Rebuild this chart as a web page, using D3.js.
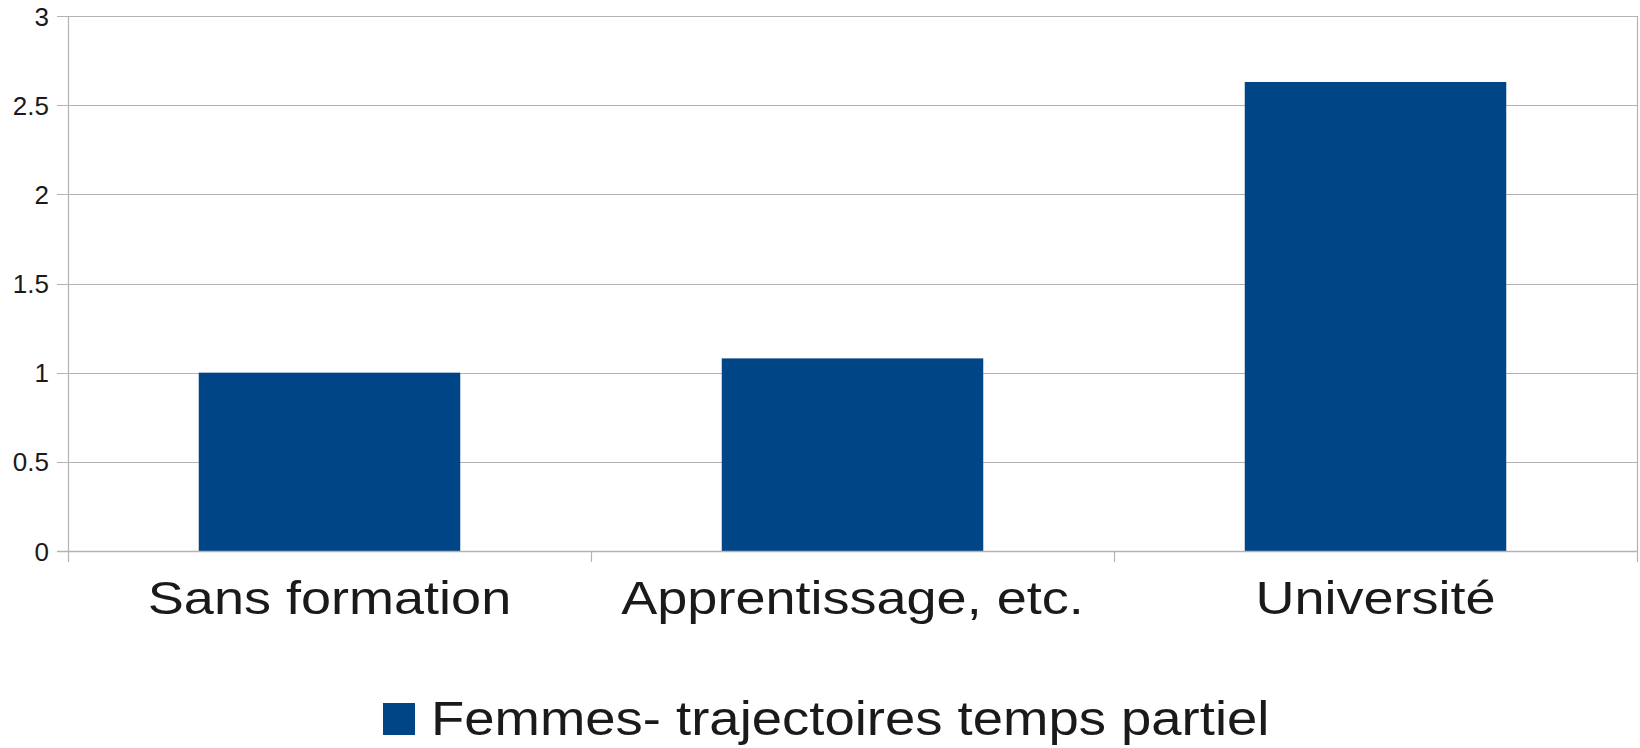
<!DOCTYPE html>
<html>
<head>
<meta charset="utf-8">
<script src="https://cdn.jsdelivr.net/npm/d3@7"></script>
<style>
  html, body { margin: 0; padding: 0; background: #fff; }
  svg { display: block; font-family: "Liberation Sans", Arial, sans-serif; }
</style>
</head>
<body>
<svg id="chart" width="1640" height="748"></svg>
<script>
const categories = ["Sans formation", "Apprentissage, etc.", "Université"];
const seriesName = "Femmes- trajectoires temps partiel";
const values = [1.0, 1.08, 2.63];
const yTicks = [0, 0.5, 1, 1.5, 2, 2.5, 3];
const yTickLabels = ["0", "0.5", "1", "1.5", "2", "2.5", "3"];

const W = 1640, H = 748;
const m = { left: 68, right: 3, top: 16, bottom: 197 };
const svg = d3.select("#chart");
const gridColor = "#b3b3b3";
const barColor = "#004586";
const textColor = "#1a1a1a";

const x = d3.scaleBand().domain(categories)
  .range([m.left, W - m.right]).paddingInner(0.5).paddingOuter(0.25);
const y = d3.scaleLinear().domain([0, 3]).range([H - m.bottom, m.top]);

// gridlines
svg.append("g").selectAll("line").data(yTicks).join("line")
  .attr("x1", m.left - 11).attr("x2", W - m.right)
  .attr("y1", d => Math.round(y(d)) + 0.5).attr("y2", d => Math.round(y(d)) + 0.5)
  .attr("stroke", gridColor).attr("stroke-width", 1.2);

// left axis line & right border
svg.append("line").attr("x1", m.left + 0.5).attr("x2", m.left + 0.5)
  .attr("y1", y(3)).attr("y2", y(0) + 11).attr("stroke", gridColor).attr("stroke-width", 1.2);
svg.append("line").attr("x1", W - m.right + 0.5).attr("x2", W - m.right + 0.5)
  .attr("y1", y(3)).attr("y2", y(0) + 11).attr("stroke", gridColor).attr("stroke-width", 1.2);

// category boundary ticks
const step = x.step();
categories.slice(1).forEach(c => {
  const bx = x(c) + x.bandwidth() / 2 - step / 2;
  svg.append("line").attr("x1", Math.round(bx) + 0.5).attr("x2", Math.round(bx) + 0.5)
    .attr("y1", y(0)).attr("y2", y(0) + 11).attr("stroke", gridColor).attr("stroke-width", 1.2);
});

// bars
svg.append("g").selectAll("rect").data(values).join("rect")
  .attr("x", (d, i) => x(categories[i]))
  .attr("width", x.bandwidth())
  .attr("y", d => y(d))
  .attr("height", d => y(0) - y(d))
  .attr("fill", barColor);

// bottom axis line over bars
svg.append("line").attr("x1", m.left - 11).attr("x2", W - m.right)
  .attr("y1", Math.round(y(0)) + 0.5).attr("y2", Math.round(y(0)) + 0.5)
  .attr("stroke", gridColor).attr("stroke-width", 1.5);

// y tick labels
svg.append("g").selectAll("text").data(yTicks).join("text")
  .attr("transform", d => `translate(49,${y(d) + 9.5}) scale(1.04,1)`)
  .attr("text-anchor", "end").attr("font-size", 25).attr("fill", textColor)
  .text((d, i) => yTickLabels[i]);

// category labels
svg.append("g").selectAll("text").data(categories).join("text")
  .attr("transform", d => `translate(${x(d) + x.bandwidth() / 2},614) scale(1.15,1)`)
  .attr("text-anchor", "middle").attr("font-size", 47).attr("fill", textColor)
  .text(d => d);

// legend
svg.append("rect").attr("x", 383).attr("y", 703).attr("width", 32).attr("height", 32)
  .attr("fill", barColor);
svg.append("text").attr("transform", "translate(431,735) scale(1.135,1)")
  .attr("font-size", 48).attr("fill", textColor).text(seriesName);
</script>
</body>
</html>
